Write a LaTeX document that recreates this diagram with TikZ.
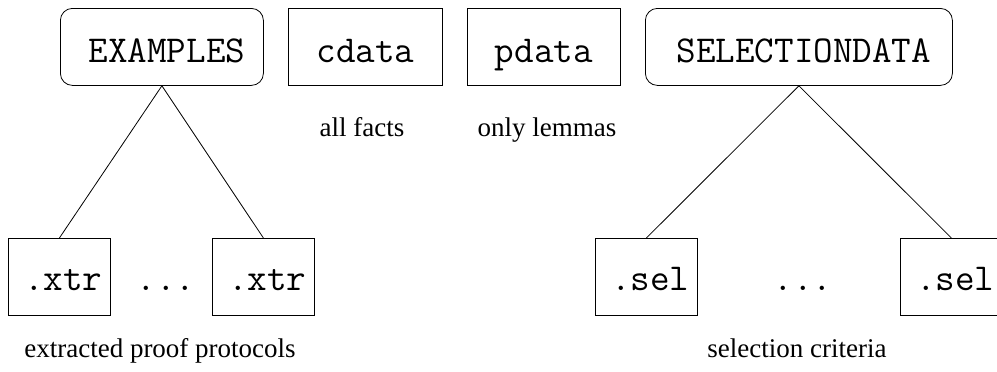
\documentclass[tikz,border=0pt]{standalone}
\usepackage{fontspec}
\setmainfont{Liberation Serif}
\begin{document}
\begin{tikzpicture}[x=1pt,y=-1pt,
  box/.style={draw, line width=0.8pt, inner sep=0pt, font=\fontsize{38}{40}\selectfont\ttfamily},
  topbox/.style={box, anchor=north west, text height=54pt, text depth=23pt},
  leafbox/.style={box, anchor=north west, minimum width=102pt, text height=52pt, text depth=25pt},
  rbox/.style={topbox, rounded corners=12pt},
  note/.style={inner sep=0pt, anchor=base, font=\fontsize{27}{30}\selectfont},
  dots/.style={inner sep=0pt, anchor=base, font=\fontsize{38}{40}\selectfont\ttfamily},
  link/.style={line width=0.8pt}]
\useasboundingbox (0,0) rectangle (997,372);
\begin{scope}
\clip (0,0) rectangle (997,372);

% top row of data files
\node[rbox, minimum width=203pt] (ex) at (60,8) {\hspace{10pt}EXAMPLES};
\node[topbox, minimum width=154pt] (cd) at (288,8) {cdata};
\node[topbox, minimum width=153pt] (pd) at (467,8) {pdata};
\node[rbox, minimum width=307pt] (sd) at (645,8) {\hspace{10pt}SELECTIONDATA};

\node[note] (cdn) at (362,136) {all facts};
\node[note] (pdn) at (547,136) {only lemmas};

% extracted protocols
\node[leafbox] (x1) at (8,238) {\hspace{8pt}.xtr};
\node[leafbox] (x2) at (212,238) {\hspace{8pt}.xtr};
\node[dots] (xd) at (166,290) {...};
\node[note] (xn) at (160,357) {extracted proof protocols};

% selection files
\node[leafbox] (s1) at (595,238) {\hspace{8pt}.sel};
\node[leafbox] (s2) at (900,238) {\hspace{8pt}.sel};
\node[dots] (sd2) at (803,290) {...};
\node[note] (sn) at (797,357) {selection criteria};

% tree links
\draw[link] (ex.south) -- (x1.north);
\draw[link] (ex.south) -- (x2.north);
\draw[link] (sd.south) -- (s1.north);
\draw[link] (sd.south) -- (s2.north);
\end{scope}
\end{tikzpicture}
\end{document}
